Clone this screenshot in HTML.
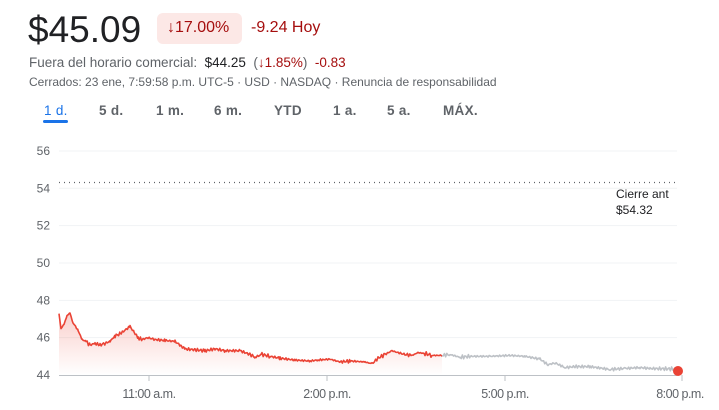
<!DOCTYPE html>
<html><head><meta charset="utf-8"><style>
body{margin:0;width:719px;height:410px;background:#fff;font-family:"Liberation Sans",Arial,sans-serif;position:relative;overflow:hidden}
.a{position:absolute;white-space:nowrap}
.t{font-size:13.5px;color:#5f6368;font-weight:bold;top:103px;letter-spacing:0.3px}
</style></head><body>
<div class="a" style="left:28px;top:9px;font-size:37px;color:#202124">$45.09</div>
<div class="a" style="left:157px;top:13px;width:85px;height:31px;background:#fce8e6;border-radius:6px"></div>
<div class="a" style="left:167px;top:19px;font-size:16px;color:#a50e0e">↓17.00%</div>
<div class="a" style="left:251px;top:19px;font-size:16px;color:#a50e0e">-9.24 Hoy</div>
<div class="a" style="left:29px;top:55px;font-size:13.5px;color:#5f6368">Fuera del horario comercial: <span style="color:#202124">&nbsp;$44.25</span> &nbsp;(<span style="color:#a50e0e">↓1.85%</span>) &nbsp;<span style="color:#a50e0e">-0.83</span></div>
<div class="a" style="left:29px;top:75px;font-size:12px;color:#5f6368">Cerrados: 23 ene, 7:59:58 p.m. UTC-5 · USD · NASDAQ · Renuncia de responsabilidad</div>
<div class="a t" style="left:44px;color:#1a73e8;font-weight:normal">1 d.</div>
<div class="a" style="left:43px;top:120px;width:25px;height:3px;background:#1a73e8;border-radius:2px"></div>
<div class="a t" style="left:99px">5 d.</div>
<div class="a t" style="left:156px">1 m.</div>
<div class="a t" style="left:214px">6 m.</div>
<div class="a t" style="left:274px">YTD</div>
<div class="a t" style="left:333px">1 a.</div>
<div class="a t" style="left:387px">5 a.</div>
<div class="a t" style="left:443px">MÁX.</div>
<svg class="a" style="left:0;top:0" width="719" height="410" id="s">
<defs><linearGradient id="g" x1="0" y1="0" x2="0" y2="1"><stop offset="0" stop-color="#ea4335" stop-opacity="0.25"/><stop offset="1" stop-color="#ea4335" stop-opacity="0"/></linearGradient></defs>
<g id="grid" stroke="#f1f3f4" stroke-width="1"></g>
<line x1="59" x2="677" y1="182.5" y2="182.5" stroke="#5f6368" stroke-dasharray="1,4" stroke-width="1.2"/>
<g font-size="12" fill="#5f6368" text-anchor="end" id="yl"></g>
<line x1="59" x2="677" y1="375.5" y2="375.5" stroke="#bdc1c6"/>
<g stroke="#bdc1c6"><line x1="149" x2="149" y1="375" y2="381"/><line x1="327" x2="327" y1="375" y2="381"/><line x1="505" x2="505" y1="375" y2="381"/><line x1="682" x2="682" y1="375" y2="381"/></g>
<g font-size="12.5" fill="#5f6368" text-anchor="middle" style="letter-spacing:-0.5px">
<text x="149" y="398">11:00 a.m.</text><text x="327" y="398">2:00 p.m.</text><text x="505" y="398">5:00 p.m.</text><text x="680" y="398">8:00 p.m.</text></g>
<text x="616" y="198" font-size="12" fill="#202124">Cierre ant</text>
<text x="616" y="214" font-size="12" fill="#202124">$54.32</text>
<path id="fill" fill="url(#g)"/>
<path id="red" fill="none" stroke="#ea4335" stroke-width="1.6" stroke-linejoin="round"/>
<path id="gray" fill="none" stroke="#bdc1c6" stroke-width="1.6" stroke-linejoin="round"/>
<circle cx="678" cy="371" r="5" fill="#ea4335"/>
</svg>
<script>
var Y=function(v){return 375-(v-44)*18.67};
var grid=document.getElementById('grid'),yl=document.getElementById('yl'),ns="http://www.w3.org/2000/svg";
for(var v=46;v<=56;v+=2){var l=document.createElementNS(ns,'line');l.setAttribute('x1',59);l.setAttribute('x2',677);l.setAttribute('y1',Y(v));l.setAttribute('y2',Y(v));grid.appendChild(l);}
for(var v=44;v<=56;v+=2){var t=document.createElementNS(ns,'text');t.setAttribute('x',50);t.setAttribute('y',Y(v)+4);t.textContent=v;yl.appendChild(t);}
var r=[[59,47.3],[61,46.5],[64,46.7],[67,47.2],[70,47.3],[73,46.8],[78,46.4],[82,45.9],[86,45.8],[90,45.6],[95,45.7],[100,45.6],[105,45.7],[110,45.8],[115,46.1],[120,46.2],[125,46.4],[130,46.6],[134,46.3],[138,46.0],[142,45.9],[148,46.0],[155,45.9],[165,45.85],[175,45.8],[180,45.6],[185,45.4],[195,45.35],[205,45.3],[215,45.4],[225,45.3],[240,45.3],[250,45.1],[255,44.95],[262,45.1],[270,45.0],[280,44.9],[295,44.8],[310,44.75],[318,44.8],[330,44.85],[340,44.7],[350,44.75],[365,44.7],[372,44.6],[378,44.9],[385,45.1],[392,45.3],[398,45.2],[405,45.1],[412,45.05],[418,45.2],[425,45.15],[432,45.05],[442,45.05]];
var g=[[442,45.05],[450,45.1],[460,44.95],[470,45.0],[490,45.0],[510,45.05],[525,45.0],[540,44.85],[548,44.55],[555,44.65],[565,44.4],[575,44.45],[590,44.45],[610,44.3],[625,44.35],[640,44.4],[650,44.35],[678,44.32]];
function jit(a){var o=[];for(var i=0;i<a.length-1;i++){var p=a[i],q=a[i+1];for(var x=p[0];x<q[0];x+=1.2){var f=(x-p[0])/(q[0]-p[0]);o.push([x,p[1]+(q[1]-p[1])*f+(Math.sin(x*7.3)*0.05+Math.sin(x*3.1)*0.04+Math.sin(x*13.7)*0.03)]);}}o.push(a[a.length-1]);return o;}
function d(a){return a.map(function(p,i){return (i?'L':'M')+p[0].toFixed(1)+' '+Y(p[1]).toFixed(1)}).join('');}
var rr=jit(r),gg=jit(g);
document.getElementById('red').setAttribute('d',d(rr));
document.getElementById('gray').setAttribute('d',d(gg));
document.getElementById('fill').setAttribute('d',d(rr)+'L442 375L59 375Z');
</script>
</body></html>
